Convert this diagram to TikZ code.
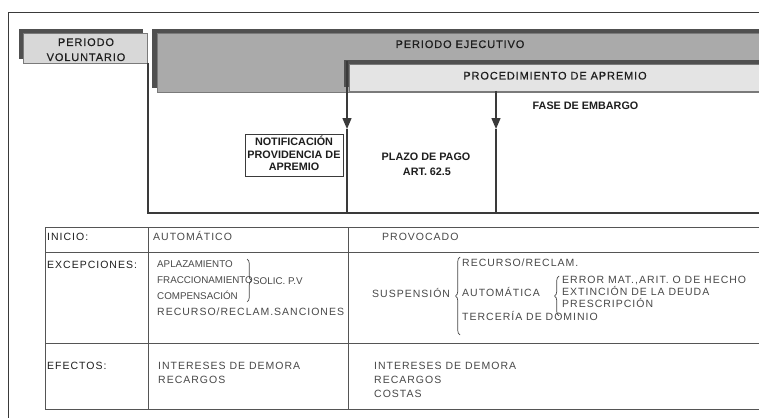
\documentclass[tikz,border=0pt]{standalone}
\usepackage{fontspec}
\setmainfont{Liberation Sans}
\newfontfamily\spacedfont[LetterSpace=9.5]{Liberation Sans}
\newfontfamily\headfont[LetterSpace=8,FakeBold=0.4]{Liberation Sans}
\usetikzlibrary{arrows.meta,decorations.pathreplacing}

\definecolor{framecol}{HTML}{3A3A3A}
\definecolor{shadowcol}{HTML}{505050}
\definecolor{edgecol}{HTML}{7A7A7A}
\definecolor{volfill}{HTML}{D8D8D8}
\definecolor{ejefill}{HTML}{AAAAAA}
\definecolor{aprfill}{HTML}{E4E4E4}
\definecolor{rulecol}{HTML}{555555}
\definecolor{entrycol}{HTML}{484848}
\definecolor{labelcol}{HTML}{1E1E1E}

\tikzset{
  header/.style={anchor=base, inner sep=0pt, text=labelcol,
    font=\headfont\fontsize{11}{13}\selectfont},
  boldlbl/.style={anchor=base, inner sep=0pt, text=labelcol,
    font=\bfseries\fontsize{10.8}{12}\selectfont},
  entry/.style={anchor=base west, inner sep=0pt, text=entrycol,
    font=\spacedfont\fontsize{10.5}{12}\selectfont},
  smallentry/.style={entry, font=\fontsize{9.8}{11}\selectfont},
  rowlabel/.style={entry, text=labelcol},
  band/.style={draw=edgecol, line width=0.5pt, anchor=north west, inner sep=0pt},
  rule/.style={draw=rulecol, line width=1pt},
  conn/.style={draw=framecol, line width=1.4pt},
  tipped/.style={conn, -{Triangle[length=11pt,width=9pt]}},
  bracket/.style={draw=entrycol, line width=0.7pt, decorate,
    decoration={brace, amplitude=4.5pt}},
}

\begin{document}
\begin{tikzpicture}[x=1pt,y=-1pt]
\useasboundingbox (0,0) rectangle (759,417);
\fill[white] (0,0) rectangle (759,417);

% outer frame (open towards the right and the bottom)
\coordinate (frameTR) at (762,12.5);
\coordinate (frameTL) at (8.5,12.5);
\coordinate (frameBL) at (8.5,420);
\draw[framecol, line width=1.2pt] (frameTR) -- (frameTL) -- (frameBL);

% ---- time bands with offset shadows ----
\fill[shadowcol] (19,29) rectangle (143,59);
\node[band, fill=volfill, minimum width=124pt, minimum height=30pt] (volbox) at (23,33) {};

\fill[shadowcol] (152,29) rectangle (762,88);
\node[band, fill=ejefill, minimum width=605pt, minimum height=59pt] (ejebox) at (157,33) {};

\fill[shadowcol] (344,60) rectangle (762,87);
\node[band, fill=aprfill, minimum width=413pt, minimum height=27pt] (aprbox) at (349,64) {};

\node[header] (volA) at (86,46) {PERIODO};
\node[header] (volB) at (86,61) {VOLUNTARIO};
\node[header] (ejeT) at (460,48) {PERIODO EJECUTIVO};
\node[header] (aprT) at (555,79.5) {PROCEDIMIENTO DE APREMIO};

% ---- boundary lines of the phases ----
\coordinate (volTop) at (148,63);
\coordinate (volBot) at (148,213);
\coordinate (baseR) at (762,213);
\draw[conn] (volTop) -- (volBot) -- (baseR);

\coordinate (arrAtop) at (347,61);
\coordinate (arrAtip) at (347,129);
\coordinate (arrAend) at (347,213);
\draw[tipped] (arrAtop) -- (arrAtip);
\draw[conn] (arrAtip) -- (arrAend);

\coordinate (arrBtop) at (496,91);
\coordinate (arrBtip) at (496,129);
\coordinate (arrBend) at (496,213);
\draw[tipped] (arrBtop) -- (arrBtip);
\draw[conn] (arrBtip) -- (arrBend);

% ---- phase labels ----
\node[draw=framecol, line width=0.6pt, minimum width=98pt, minimum height=42pt,
      inner sep=0pt] (notif) at (294,155) {};
\node[boldlbl] (notifA) at (294,145.5) {NOTIFICACIÓN};
\node[boldlbl] (notifB) at (294,158) {PROVIDENCIA DE};
\node[boldlbl] (notifC) at (294,170.5) {APREMIO};

\node[boldlbl] (plazoA) at (426,160.5) {PLAZO DE PAGO};
\node[boldlbl] (plazoB) at (427,175.5) {ART. 62.5};

\node[boldlbl] (embargo) at (585.5,110) {FASE DE EMBARGO};

% ---- table ----
\draw[rule] (45,227) -- (762,227);
\draw[rule] (45,252) -- (762,252);
\draw[rule] (45,343) -- (762,343);
\draw[rule] (45,409) -- (762,409);
\draw[rule] (45,227) -- (45,409);
\draw[rule] (148,227) -- (148,409);
\draw[rule] (348,227) -- (348,409);

% row: inicio
\node[rowlabel] (inicio) at (47,240.3) {INICIO:};
\node[entry] (automatico) at (153,240.3) {AUTOMÁTICO};
\node[entry] (provocado) at (382,240.3) {PROVOCADO};

% row: excepciones
\node[rowlabel] (excep) at (47,268) {EXCEPCIONES:};
\node[smallentry] (aplaz) at (157,267.5) {APLAZAMIENTO};
\node[smallentry] (fracc) at (157,283.5) {FRACCIONAMIENTO};
\node[smallentry] (compens) at (157,299.5) {COMPENSACIÓN};
\node[entry] (recsanc) at (157,315.8) {RECURSO/RECLAM.SANCIONES};
\draw[bracket] (247,259) -- (247,302);
\node[smallentry] (solic) at (253,284) {SOLIC. P.V};

\node[entry] (suspension) at (372,297) {SUSPENSIÓN};
\draw[bracket] (460,335) -- (460,257);
\node[entry] (recrec) at (462,266.8) {RECURSO/RECLAM.};
\node[entry] (automatica) at (462,296) {AUTOMÁTICA};
\draw[bracket] (559,316) -- (559,276);
\node[entry] (error) at (562,283.8) {ERROR MAT.,ARIT. O DE HECHO};
\node[entry] (extincion) at (562,295.8) {EXTINCIÓN DE LA DEUDA};
\node[entry] (prescrip) at (562,307.3) {PRESCRIPCIÓN};
\node[entry] (terceria) at (462,320.8) {TERCERÍA DE DOMINIO};

% row: efectos
\node[rowlabel] (efectos) at (47,369) {EFECTOS:};
\node[entry] (intL) at (158,369) {INTERESES DE DEMORA};
\node[entry] (recL) at (158,383) {RECARGOS};
\node[entry] (intR) at (374,369) {INTERESES DE DEMORA};
\node[entry] (recR) at (374,383) {RECARGOS};
\node[entry] (costR) at (374,397.3) {COSTAS};
\end{tikzpicture}
\end{document}
